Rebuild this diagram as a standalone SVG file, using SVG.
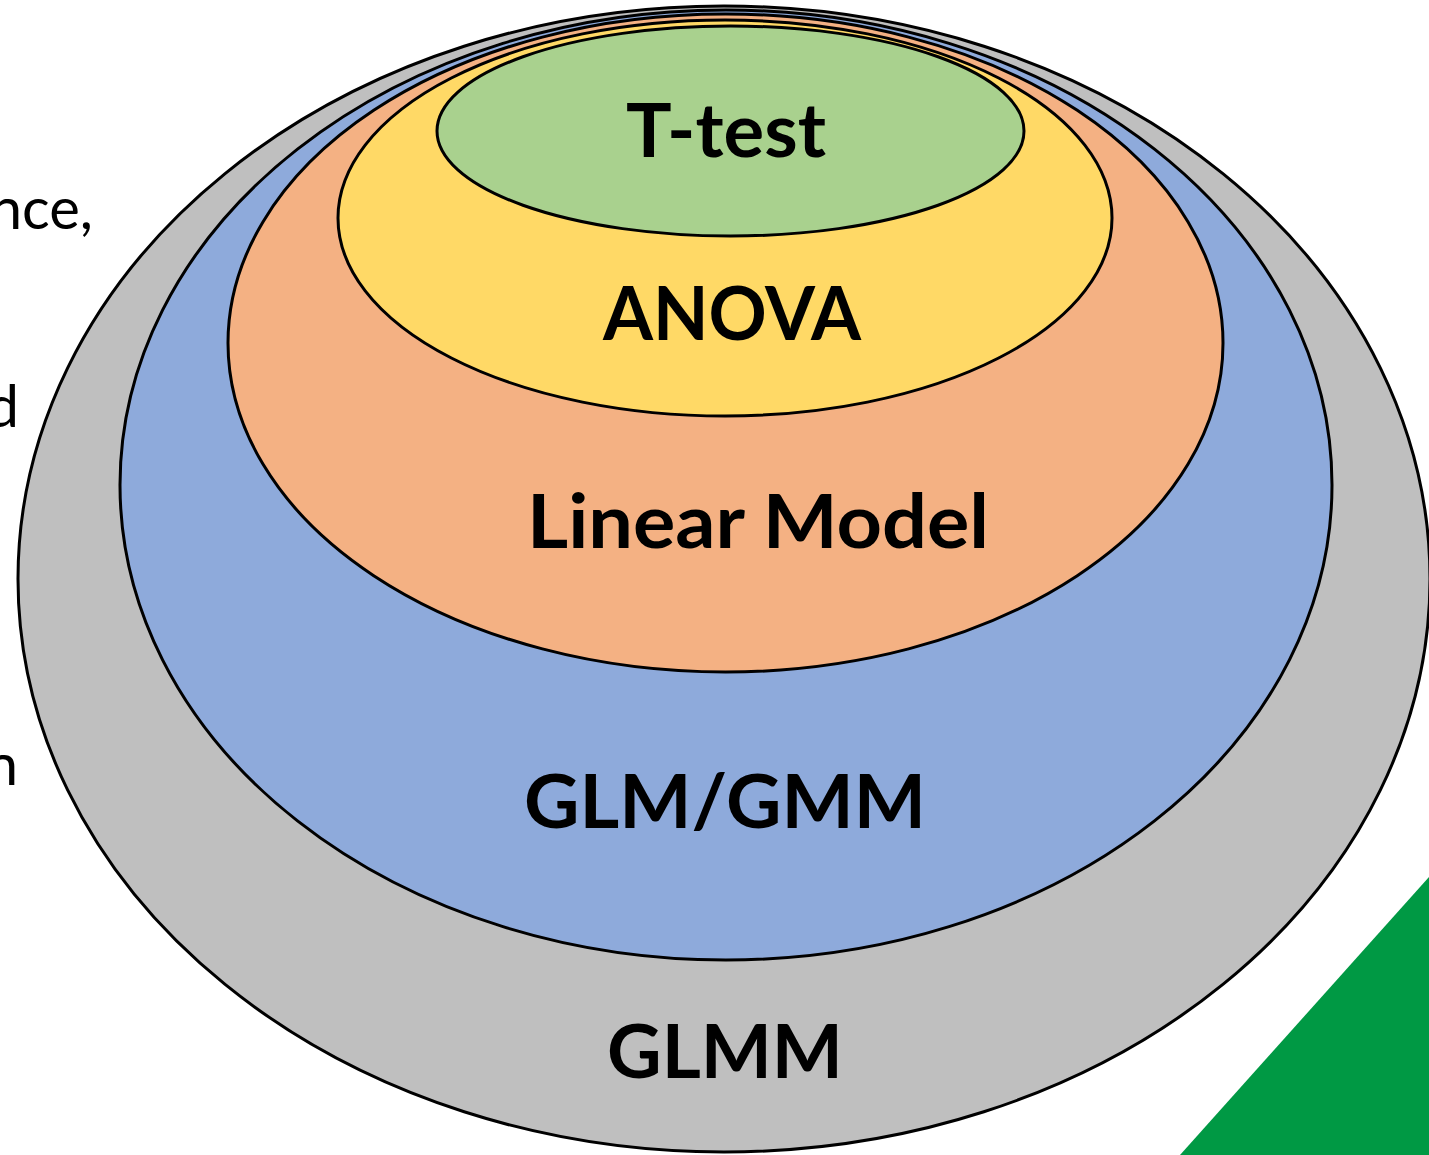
<svg xmlns="http://www.w3.org/2000/svg" width="1429" height="1155" viewBox="0 0 1429 1155">
  <style>
    .ring { stroke: #000000; stroke-width: 3; }
    .label { font-family: Lato, "Open Sans", "Liberation Sans", sans-serif; font-weight: bold; font-size: 75px; fill: #000000; }
    .side { font-family: Lato, "Open Sans", "Liberation Sans", sans-serif; font-size: 58px; fill: #000000; }
  </style>
  <rect x="0" y="0" width="1429" height="1155" fill="#ffffff"/>

  <!-- word endings running in from the left margin -->
  <g id="side-text">
    <text class="side" x="93" y="229" text-anchor="end">nce,</text>
    <text class="side" x="19" y="427" text-anchor="end">d</text>
    <text class="side" x="18" y="785" text-anchor="end">n</text>
  </g>

  <!-- green corner accent -->
  <polygon points="1180,1155 1429,877 1429,1155" fill="#009944"/>

  <!-- nested model families, outermost first -->
  <g id="glmm">
    <ellipse class="ring" cx="724" cy="579" rx="706" ry="573" fill="#BFBFBF"/>
    <text class="label" x="607" y="1078" textLength="236" lengthAdjust="spacingAndGlyphs">GLMM</text>
  </g>
  <g id="glm-gmm">
    <ellipse class="ring" cx="726" cy="485" rx="606" ry="475" fill="#8EAADB"/>
    <text class="label" x="524" y="828" textLength="402" lengthAdjust="spacingAndGlyphs">GLM/GMM</text>
  </g>
  <g id="linear-model">
    <ellipse class="ring" cx="725.5" cy="343" rx="497.5" ry="329" fill="#F4B183"/>
    <text class="label" x="527" y="548" textLength="462" lengthAdjust="spacingAndGlyphs">Linear Model</text>
  </g>
  <g id="anova">
    <ellipse class="ring" cx="725" cy="218" rx="387" ry="198" fill="#FFD966"/>
    <text class="label" x="603" y="340" textLength="258" lengthAdjust="spacingAndGlyphs">ANOVA</text>
  </g>
  <g id="t-test">
    <ellipse class="ring" cx="730.5" cy="131" rx="293.5" ry="105" fill="#A9D18E"/>
    <text class="label" x="626" y="157" textLength="200" lengthAdjust="spacingAndGlyphs">T-test</text>
  </g>

  <!-- the figure has no connectors -->
  <g id="connectors"/>
</svg>
